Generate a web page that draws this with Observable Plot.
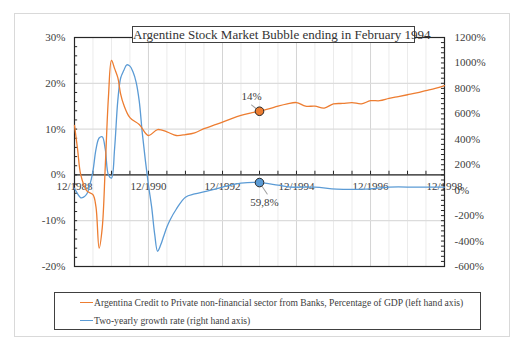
<!DOCTYPE html>
<html><head><meta charset="utf-8">
<script src="https://cdn.jsdelivr.net/npm/d3@7"></script>
<script src="https://cdn.jsdelivr.net/npm/@observablehq/plot@0.6"></script>
<style>
body{margin:0;background:#fff;}
#wrap{position:relative;width:518px;height:346px;font-family:"Liberation Serif","Times New Roman",serif;}
#frame{position:absolute;left:14px;top:13px;width:496px;height:324px;border:1px solid #d9d9d9;box-sizing:border-box;}
#chart{position:absolute;left:0;top:0;}
#chart svg text{font-family:"Liberation Serif","Times New Roman",serif;}
#title{position:absolute;left:132px;top:26px;width:283px;height:17px;border:1px solid #404040;background:#fff;box-sizing:border-box;font-size:13px;line-height:15px;text-align:center;color:#333;white-space:nowrap;}
#legend{position:absolute;left:54px;top:292px;width:427px;height:38px;border:1px solid #404040;box-sizing:border-box;font-size:9.6px;color:#404040;}
.row{position:absolute;left:25px;white-space:nowrap;display:flex;align-items:center;}
.sw{display:inline-block;width:13px;height:0;border-top:1.3px solid;margin-right:1px;}
</style></head>
<body>
<div id="wrap">
  <div id="frame"></div>
  <div id="chart"></div>
  <div id="title">Argentine Stock Market Bubble ending in February 1994</div>
  <div id="legend"></div>
</div>
<script>
// ---- data ----
const orangeDates = ["1988-12","1989-01","1989-02","1989-04","1989-06","1989-07","1989-08","1989-09","1989-10","1989-11","1989-12","1990-01","1990-02","1990-03","1990-04","1990-06","1990-09","1990-12","1991-03","1991-06","1991-09","1991-12","1992-03","1992-06","1992-09","1992-12","1993-03","1993-06","1993-09","1993-12","1994-03","1994-06","1994-09","1994-12","1995-03","1995-06","1995-09","1995-12","1996-03","1996-06","1996-09","1996-12","1997-03","1997-06","1997-09","1997-12","1998-03","1998-06","1998-09","1998-12"];
const orangeValues = [10.8,5.5,0,-3.5,-4.3,-7,-16,-11.5,2,17,25,23.2,21.3,17.7,15.3,12.5,11,8.6,9.9,9.4,8.6,8.8,9.2,10.1,10.8,11.5,12.3,13,13.5,13.9,14.4,15,15.5,15.8,15,15,14.6,15.5,15.6,15.8,15.5,16.2,16.2,16.7,17.1,17.5,17.9,18.4,18.9,19.5];
const blueDates = ["1988-12","1989-01","1989-02","1989-03","1989-04","1989-05","1989-06","1989-07","1989-08","1989-09","1989-10","1989-11","1989-12","1990-01","1990-02","1990-03","1990-04","1990-05","1990-06","1990-07","1990-08","1990-09","1990-10","1990-11","1990-12","1991-01","1991-02","1991-03","1991-04","1991-05","1991-06","1991-07","1991-09","1991-12","1992-03","1992-07","1992-12","1993-06","1993-12","1994-06","1994-10","1995-06","1996-01","1996-10","1997-06","1998-03","1998-12"];
const blueValues = [15,-30,-60,-55,-30,40,150,320,410,420,320,120,95,330,700,880,940,985,975,930,850,700,450,230,40,-130,-350,-480,-430,-360,-290,-236,-150,-55,-30,-8,24,55,59.8,39,24,24,8,8,24,24,24];
const leftTicks = [-20,-10,0,10,20,30];
const rightTicks = [-600,-400,-200,0,200,400,600,800,1000,1200];
const xLabelDates = ["1988-12","1990-12","1992-12","1994-12","1996-12","1998-12"];
const markerDate = "1993-12";
const orangeMarkerValue = 13.9, blueMarkerValue = 59.8;
const markerLabels = ["14%","59,8%"];
const seriesNames = ["Argentina Credit to Private non-financial sector from Banks, Percentage of GDP (left hand axis)","Two-yearly growth rate (right hand axis)"];
const colors = ["#ed7d31","#5b9bd5"];

// ---- build ----
const FONT = '"Liberation Serif","Times New Roman",serif';
const parse = d3.utcParse("%Y-%m");
const toLeft = r => -20 + (r + 600) / 1800 * 50;
const fromLeft = l => (l + 20) / 50 * 1800 - 600;
const orange = orangeDates.map((d,i)=>({date: parse(d), v: orangeValues[i]}));
const blue = blueDates.map((d,i)=>({date: parse(d), v: toLeft(blueValues[i])}));
const x0 = parse(xLabelDates[0]), x1 = parse(xLabelDates[xLabelDates.length-1]);
const halfYears = d3.utcMonth.range(x0, d3.utcMonth.offset(x1,1), 6);
const majorYears = xLabelDates.map(parse);
const leftMinor = d3.range(-20, 30.001, 2);
const rightMinor = d3.range(-600, 1200.001, 40).map(toLeft);
const markers = [
  {date: parse(markerDate), v: orangeMarkerValue, label: markerLabels[0], c: colors[0], rot: -52, len: 11.5, dx: -8, dy: -15},
  {date: parse(markerDate), v: toLeft(blueMarkerValue), label: markerLabels[1], c: colors[1], rot: 146, len: 15.5, dx: 5, dy: 20}
];
const lineShape = {draw(context, l) { context.moveTo(0, 0); context.lineTo(0, -l); }};
const fmt = d3.utcFormat("%m/%Y");

const chart = Plot.plot({
  width: 518, height: 346,
  marginLeft: 74, marginRight: 74, marginTop: 37, marginBottom: 80,
  style: {fontFamily: FONT, fontSize: "11px", color: "#404040", background: "transparent"},
  x: {type: "utc", domain: [x0, x1], axis: null},
  y: {domain: [-20, 30], axis: null, label: null},
  marks: [
    Plot.gridX(halfYears, {stroke: "#ebebeb", strokeOpacity: 1}),
    Plot.gridX(majorYears, {stroke: "#d4d4d4", strokeOpacity: 1}),
    Plot.gridY(leftTicks, {stroke: "#dcdcdc", strokeOpacity: 1, strokeWidth: 1.2}),
    Plot.text(xLabelDates.map(parse), {x: d => d, y: () => 0, dy: 12, text: d => fmt(d), fill: "#404040", fontSize: 11, fontFamily: FONT}),
    Plot.ruleY(leftMinor, {x1: x0, x2: d3.utcMonth.offset(x0, 1), stroke: "#262626"}),
    Plot.ruleY(rightMinor, {x1: d3.utcMonth.offset(x1, -1), x2: x1, stroke: "#262626"}),
    Plot.ruleX(halfYears, {y1: 0, y2: 0.8, stroke: "#262626"}),
    Plot.ruleY([0], {stroke: "#262626", strokeWidth: 1.2}),
    Plot.frame({stroke: "#262626", strokeWidth: 1.2}),
    Plot.axisY(leftTicks, {anchor: "left", label: null, tickSize: 0, tickPadding: 9, tickFormat: d => d + "%", fill: "#404040", fontSize: 11, fontFamily: FONT}),
    Plot.axisY(rightTicks.map(toLeft), {anchor: "right", label: null, tickSize: 0, tickPadding: 10, tickFormat: v => Math.round(fromLeft(v)) + "%", fill: "#404040", fontSize: 11, fontFamily: FONT}),
    Plot.line(blue, {x: "date", y: "v", stroke: colors[1], strokeWidth: 1.3, curve: "catmull-rom"}),
    Plot.line(orange, {x: "date", y: "v", stroke: colors[0], strokeWidth: 1.3, curve: "catmull-rom"}),
    Plot.vector(markers, {x: "date", y: "v", length: d => d.len, rotate: d => d.rot, anchor: "start", shape: lineShape, stroke: "#a0a0a0", strokeWidth: 1}),
    Plot.dot(markers, {x: "date", y: "v", r: 4.3, fill: "c", stroke: "#262626", strokeWidth: 1}),
    ...markers.map(m => Plot.text([m], {x: "date", y: "v", text: "label", dx: m.dx, dy: m.dy, fill: "#404040", fontSize: 11, fontFamily: FONT}))
  ]
});
document.getElementById("chart").appendChild(chart);

const legend = document.getElementById("legend");
seriesNames.forEach((name, i) => {
  const row = document.createElement("div");
  row.className = "row";
  row.style.top = (i === 0 ? 4 : 22) + "px";
  const sw = document.createElement("span");
  sw.className = "sw";
  sw.style.borderTopColor = colors[i];
  row.appendChild(sw);
  row.appendChild(document.createTextNode(name));
  legend.appendChild(row);
});
</script>
</body></html>
